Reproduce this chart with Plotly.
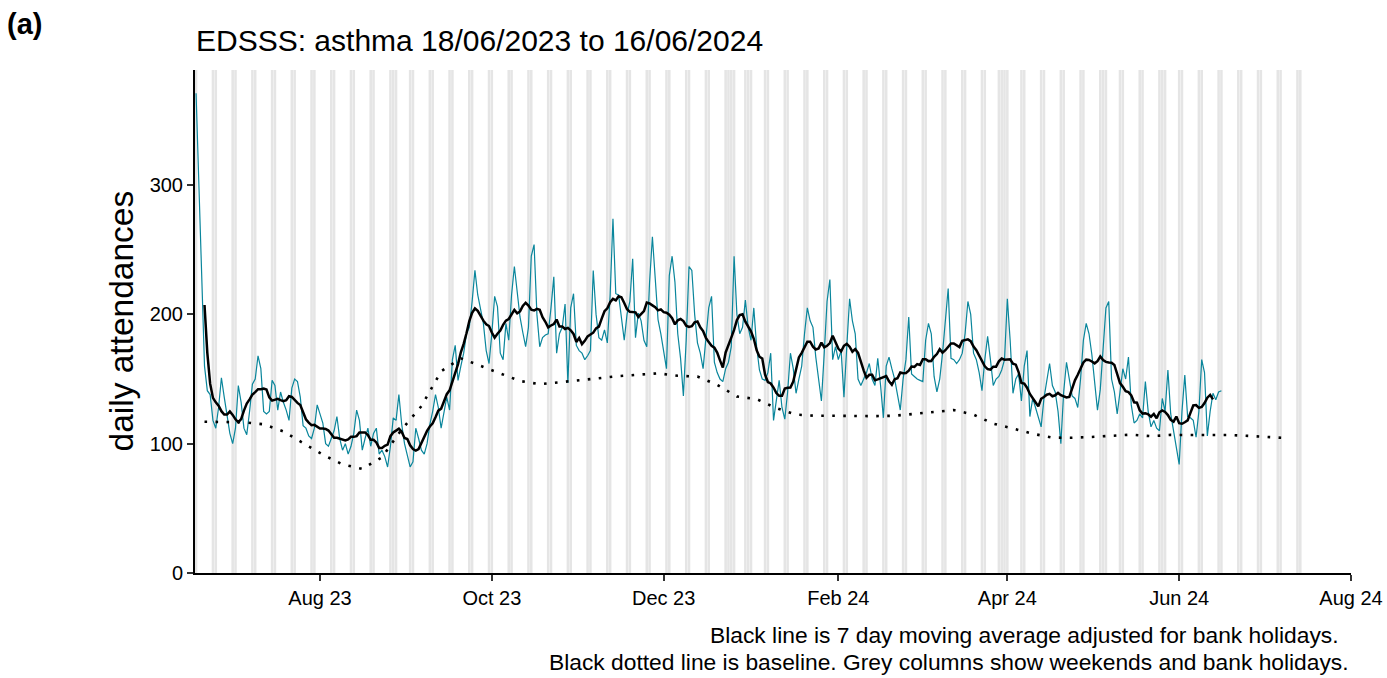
import pandas as pd
import plotly.graph_objects as go

# ---------------- data ----------------
start_date = "2023-06-18"   # first day of daily series (Sunday)

# daily attendances, one row per week (Sun .. Sat)
attendances = [
    371, 295, 228, 160, 141, 138, 118,
    112, 128, 151, 136, 123, 108, 100,
    112, 145, 132, 112, 107, 125, 146,
    150, 168, 158, 125, 123, 125, 149,
    145, 126, 140, 132, 126, 118, 143,
    150, 148, 136, 114, 112, 106, 104,
    112, 130, 122, 116, 100, 98, 104,
    110, 121, 104, 95, 100, 92, 98,
    108, 126, 118, 95, 104, 112, 98,
    108, 112, 92, 95, 90, 82, 98,
    120, 118, 138, 115, 100, 92, 82,
    86, 112, 104, 95, 92, 100, 115,
    125, 138, 128, 112, 125, 136, 126,
    165, 176, 149, 160, 170, 185, 190,
    210, 234, 215, 205, 193, 172, 162,
    185, 214, 206, 170, 165, 193, 180,
    215, 237, 215, 198, 186, 175, 190,
    245, 254, 200, 175, 182, 184, 185,
    205, 229, 170, 185, 190, 208, 147,
    205, 216, 176, 172, 170, 165, 168,
    172, 234, 200, 182, 180, 188, 178,
    215, 274, 216, 215, 198, 180, 200,
    210, 243, 182, 201, 195, 180, 175,
    225, 260, 228, 196, 185, 170, 158,
    230, 245, 225, 185, 166, 137, 180,
    237, 234, 200, 178, 170, 158, 185,
    205, 214, 163, 155, 150, 148, 158,
    163, 175, 245, 200, 185, 190, 211,
    190, 180, 205, 175, 157, 150, 149,
    155, 170, 118, 135, 149, 128, 119,
    140, 170, 158, 139, 150, 160, 185,
    205, 195, 190, 167, 150, 133, 170,
    210, 227, 165, 175, 165, 172, 136,
    175, 212, 195, 185, 150, 145, 150,
    155, 162, 150, 145, 166, 145, 120,
    160, 167, 158, 150, 138, 126, 150,
    165, 198, 154, 152, 150, 149, 148,
    180, 193, 185, 152, 140, 150, 170,
    195, 220, 166, 165, 162, 165, 170,
    185, 210, 200, 170, 165, 155, 141,
    165, 183, 165, 145, 150, 152, 157,
    165, 212, 180, 139, 150, 154, 133,
    160, 172, 121, 135, 128, 120, 113,
    135, 150, 162, 145, 140, 125, 100,
    140, 163, 150, 137, 135, 128, 150,
    180, 193, 185, 169, 150, 126, 142,
    170, 205, 210, 150, 140, 123, 140,
    158, 150, 167, 130, 116, 118, 123,
    120, 148, 125, 113, 118, 112, 110,
    135, 125, 157, 123, 110, 95, 84,
    125, 153, 121, 120, 118, 105, 125,
    165, 155, 106, 125, 139, 134, 140,
    141,
]

# baseline, read weekly from 2023-06-21, plus its last point
baseline_start = "2023-06-21"
baseline_values = [
    117, 117, 116.5, 115, 109.5, 100.5, 91.5, 84, 80.5, 89.5,
    111, 129, 156, 166, 160, 154, 148.5, 146, 147.5, 148.7,
    150.6, 152.3, 153.4, 154.4, 152.5, 152, 145.5, 136.5, 134.5, 127.5,
    122.5, 121.6, 121.6, 121.4, 121.3, 121.6, 123.2, 124.4, 126, 122.5,
    115.5, 111.7, 107.7, 104.7, 104.6, 105.2, 106.3, 107, 105.8, 106.8,
    106.7, 106.7, 106.7, 106, 105,
]
baseline_last_date = "2024-07-08"
baseline_last_value = 104.5

# grey columns: weekends and bank holidays
grey_first_day = "2023-06-18"
grey_last_day = "2024-07-14"
bank_holidays = ["2023-08-28", "2023-12-25", "2023-12-26", "2024-01-01",
                 "2024-03-29", "2024-04-01", "2024-05-06", "2024-05-27"]

x_tick_dates = ["2023-08-01", "2023-10-01", "2023-12-01", "2024-02-01",
                "2024-04-01", "2024-06-01", "2024-08-01"]
x_tick_text = ["Aug 23", "Oct 23", "Dec 23", "Feb 24", "Apr 24", "Jun 24", "Aug 24"]
y_tick_values = [0, 100, 200, 300]

title_text = "EDSSS: asthma 18/06/2023 to 16/06/2024"
caption_1 = "Black line is 7 day moving average adjusted for bank holidays."
caption_2 = "Black dotted line is baseline. Grey columns show weekends and bank holidays."

# ---------------- derived ----------------
dates = pd.date_range(start_date, periods=len(attendances), freq="D")
series = pd.Series(attendances, index=dates, dtype=float)
moving_avg = series.rolling(7, center=True).mean()

b_dates = list(pd.date_range(baseline_start, periods=len(baseline_values), freq="7D"))
b_dates.append(pd.Timestamp(baseline_last_date))
b_vals = list(baseline_values) + [baseline_last_value]

all_days = pd.date_range(grey_first_day, grey_last_day, freq="D")
grey_days = sorted(set([d for d in all_days if d.weekday() >= 5] +
                       [pd.Timestamp(b) for b in bank_holidays]))

TEAL = "#0a869c"
FONT = "Liberation Sans, Arial, sans-serif"

fig = go.Figure()

half = pd.Timedelta(hours=10.8)  # 0.9 day wide columns
shapes = []
for d in grey_days:
    shapes.append(dict(type="rect", xref="x", yref="paper",
                       x0=d - half, x1=d + half, y0=0, y1=1,
                       fillcolor="#e5e5e5", line=dict(width=0), layer="below"))

fig.add_trace(go.Scatter(x=dates, y=series.values, mode="lines",
                         line=dict(color=TEAL, width=1.2), hoverinfo="x+y"))
fig.add_trace(go.Scatter(x=b_dates, y=b_vals, mode="lines",
                         line=dict(color="black", width=2.6, dash="2.6px,8.4px")))
fig.add_trace(go.Scatter(x=dates, y=moving_avg.values, mode="lines",
                         line=dict(color="black", width=2.5)))

axis_common = dict(showgrid=False, zeroline=False, showline=True, automargin=False,
                   linecolor="black", linewidth=2, ticks="outside",
                   ticklen=6, tickwidth=1.5, tickcolor="#333333",
                   tickfont=dict(size=20, color="black", family=FONT))

fig.update_xaxes(type="date", range=["2023-06-17 15:00", "2024-08-01"],
                 tickvals=x_tick_dates, ticktext=x_tick_text, **axis_common)
fig.update_yaxes(range=[0, 389], tickvals=y_tick_values, **axis_common)

plot_w = 1387 - 195 - 36
plot_h = 678 - 70 - 105

annotations = [
    dict(text="<b>(a)</b>", xref="paper", yref="paper",
         x=(5 - 195) / plot_w, y=1 + (70 - 24) / plot_h,
         xanchor="left", yanchor="middle", showarrow=False,
         font=dict(size=29, family=FONT, color="black")),
    dict(text="daily attendances", textangle=-90, xref="paper", yref="paper",
         x=(121 - 195) / plot_w, y=0.5, xanchor="center", yanchor="middle",
         showarrow=False, font=dict(size=33.5, family=FONT, color="black")),
    dict(text=caption_1, xref="paper", yref="paper",
         x=(1341 - 195) / plot_w, y=(573 - 635) / plot_h,
         xanchor="right", yanchor="middle", showarrow=False,
         font=dict(size=22.8, family=FONT, color="black")),
    dict(text=caption_2, xref="paper", yref="paper",
         x=1.0, y=(573 - 662) / plot_h,
         xanchor="right", yanchor="middle", showarrow=False,
         font=dict(size=22.8, family=FONT, color="black")),
]

fig.update_layout(
    width=1387, height=678,
    margin=dict(l=195, r=36, t=70, b=105, autoexpand=False),
    paper_bgcolor="white", plot_bgcolor="white",
    showlegend=False,
    font=dict(family=FONT, color="black"),
    title=dict(text=title_text, x=196 / 1387, xanchor="left",
               y=1 - 40 / 678, yanchor="middle", automargin=False,
               font=dict(size=30, family=FONT, color="black")),
    shapes=shapes,
    annotations=annotations,
)

fig.write_html("out.html", config={"displayModeBar": False},
               post_script="document.body.style.margin='0';document.body.style.overflow='hidden';")
